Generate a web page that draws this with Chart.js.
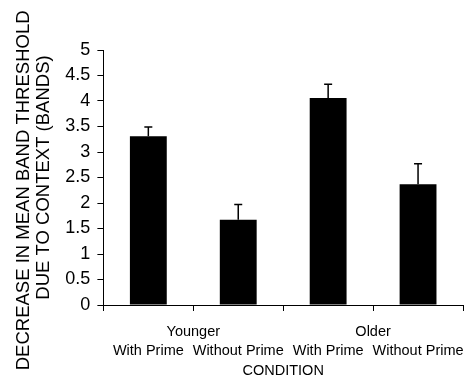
<!DOCTYPE html>
<html>
<head>
<meta charset="utf-8">
<script src="https://cdn.jsdelivr.net/npm/chart.js@4"></script>
<style>
  html, body { margin: 0; padding: 0; background: #fff; }
  #wrap { width: 469px; height: 381px; }
</style>
</head>
<body>
<div id="wrap"><canvas id="chart"></canvas></div>
<script>
const groups = ['Younger', 'Older'];
const conditions = ['With Prime', 'Without Prime', 'With Prime', 'Without Prime'];
const means = [3.31, 1.67, 4.06, 2.37];
const errors = [0.18, 0.30, 0.27, 0.40];
const yTitle = ['DECREASE IN MEAN BAND THRESHOLD     ', 'DUE TO CONTEXT (BANDS)'];
const xTitle = 'CONDITION';

const FONT = '"Liberation Sans", Arial, sans-serif';
const labelFont = { family: FONT, size: 14.5 };

// upward-only error bars, positioned with the chart's own y scale
const errorBars = {
    id: 'errorBars',
    afterDatasetsDraw: function (chart) {
        const ctx = chart.ctx;
        const y = chart.scales.y;
        const meta = chart.getDatasetMeta(0);
        ctx.save();
        ctx.strokeStyle = '#000';
        ctx.lineWidth = 1.5;
        meta.data.forEach(function (bar, i) {
            const top = y.getPixelForValue(means[i] + errors[i]);
            ctx.beginPath();
            ctx.moveTo(bar.x, bar.y);
            ctx.lineTo(bar.x, top);
            ctx.moveTo(bar.x - 4, top);
            ctx.lineTo(bar.x + 4, top);
            ctx.stroke();
        });
        ctx.restore();
    }
};

new Chart(document.getElementById('chart'), {
    type: 'bar',
    data: {
        labels: conditions,
        datasets: [{
            data: means,
            backgroundColor: '#000',
            borderWidth: 0,
            categoryPercentage: 1,
            barPercentage: 0.41
        }]
    },
    options: {
        responsive: true,
        maintainAspectRatio: false,
        animation: false,
        layout: { padding: { top: 50, right: 6, bottom: 0, left: 0 } },
        plugins: { legend: { display: false }, tooltip: { enabled: false } },
        scales: {
            x: {
                grid: { offset: true, drawOnChartArea: false, tickLength: 6, color: '#000', lineWidth: 1 },
                border: { color: '#000', width: 1 },
                ticks: { display: false },
                title: {
                    display: true,
                    text: xTitle,
                    color: '#000',
                    padding: { top: 51.3, bottom: 1.3 },
                    font: labelFont
                }
            },
            // group row and condition row hang below the axis, placed by y value
            xg: {
                type: 'category',
                labels: groups,
                position: { y: -0.36 },
                offset: true,
                grid: { display: false, drawTicks: false },
                border: { display: false },
                ticks: { color: '#000', padding: 0, maxRotation: 0, font: labelFont }
            },
            xs: {
                type: 'category',
                labels: conditions,
                position: { y: -0.74 },
                offset: true,
                grid: { display: false, drawTicks: false },
                border: { display: false },
                ticks: { color: '#000', padding: 0, autoSkip: false, maxRotation: 0, font: labelFont }
            },
            y: {
                min: 0,
                max: 5,
                ticks: { stepSize: 0.5, autoSkip: false, color: '#000', padding: 7, font: { family: FONT, size: 18 },
                    callback: function (v) { return String(v); } },
                grid: { drawOnChartArea: false, tickLength: 6, color: '#000' },
                border: { color: '#000', width: 1 },
                title: {
                    display: true,
                    text: yTitle,
                    color: '#000',
                    padding: { top: 14, bottom: 4.4 },
                    font: { family: FONT, size: 18.5, lineHeight: 1.08 }
                }
            }
        }
    },
    plugins: [errorBars]
});
</script>
</body>
</html>
